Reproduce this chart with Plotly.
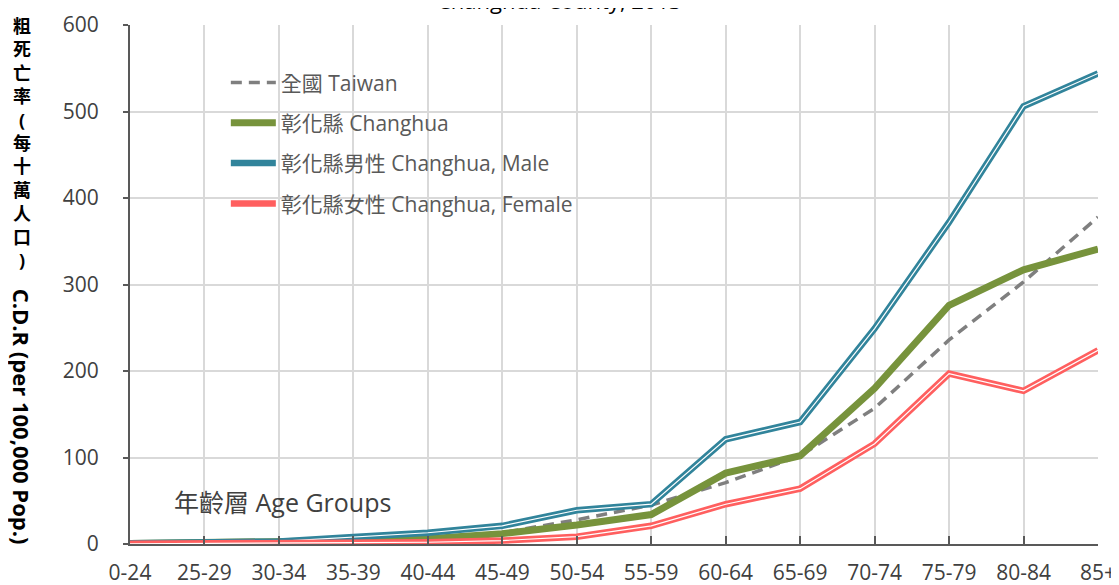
import plotly.graph_objects as go

age_groups = ["0-24", "25-29", "30-34", "35-39", "40-44", "45-49", "50-54",
              "55-59", "60-64", "65-69", "70-74", "75-79", "80-84", "85+"]
taiwan = [0.5, 1, 2, 4, 7, 13, 28, 45, 71, 102, 157, 236, 303, 378]
changhua = [0.5, 1, 2, 4, 6, 12, 22, 34, 82, 102, 180, 276, 317, 341]
changhua_male = [1, 1.5, 3, 8, 13, 21, 39, 46, 121, 141, 249, 372, 506, 544]
changhua_female = [0.3, 0.5, 1, 1.5, 2, 4, 8.5, 21, 46, 64, 116, 197, 177, 224]

names = ["全國 Taiwan", "彰化縣 Changhua", "彰化縣男性 Changhua, Male", "彰化縣女性 Changhua, Female"]
title_text = "Changhua County, 2013"
y_title_zh = "粗死亡率(每十萬人口)"
y_title_en = "C.D.R (per 100,000 Pop.)"
x_title = "年齡層 Age Groups"

FONT = "Open Sans, Noto Sans CJK TC"
x = list(range(len(age_groups)))

fig = go.Figure()
fig.add_trace(go.Scatter(x=x, y=taiwan, mode="lines", name=names[0], legendgroup="a",
                         line=dict(color="#7f7f7f", width=3.5, dash="11px,7px")))
fig.add_trace(go.Scatter(x=x, y=changhua, mode="lines", name=names[1], legendgroup="b",
                         line=dict(color="#77933c", width=7)))
fig.add_trace(go.Scatter(x=x, y=changhua_male, mode="lines", name=names[2], legendgroup="c",
                         line=dict(color="#31849b", width=6.5)))
fig.add_trace(go.Scatter(x=x, y=changhua_male, mode="lines", showlegend=False, legendgroup="c",
                         hoverinfo="skip", line=dict(color="white", width=1.2)))
fig.add_trace(go.Scatter(x=x, y=changhua_female, mode="lines", name=names[3], legendgroup="d",
                         line=dict(color="#ff5f5f", width=6.5)))
fig.add_trace(go.Scatter(x=x, y=changhua_female, mode="lines", showlegend=False, legendgroup="d",
                         hoverinfo="skip", line=dict(color="white", width=1.2)))

fig.update_layout(
    width=1111, height=577,
    margin=dict(l=122, r=21, t=17, b=41),
    paper_bgcolor="white", plot_bgcolor="white",
    font=dict(family=FONT, color="#595959"),
    showlegend=True,
    legend=dict(x=0.099, y=0.928, xanchor="left", yanchor="top",
                bgcolor="rgba(0,0,0,0)", font=dict(size=21, color="#595959", family=FONT),
                traceorder="grouped", tracegroupgap=10, itemwidth=45),
    xaxis=dict(tickmode="array", tickvals=x, ticktext=age_groups, range=[0, 13],
               automargin=False,
               showgrid=True, gridcolor="#d9d9d9", gridwidth=1.5,
               showline=True, linecolor="#595959", linewidth=2,
               ticks="inside", ticklen=8, tickcolor="#595959", tickwidth=2,
               ticklabelstandoff=9,
               tickfont=dict(size=21, color="#404040", family=FONT), zeroline=False),
    yaxis=dict(range=[0, 600], tickvals=[0, 100, 200, 300, 400, 500, 600],
               automargin=False,
               showgrid=True, gridcolor="#d9d9d9", gridwidth=1.5,
               showline=True, linecolor="#595959", linewidth=2,
               ticks="outside", ticklen=5, tickcolor="#595959", tickwidth=2,
               ticklabelstandoff=20,
               tickfont=dict(size=21, color="#404040", family=FONT), zeroline=False),
    annotations=[
        dict(text=title_text, xref="paper", yref="paper", x=0.444, y=1.049,
             showarrow=False, font=dict(size=22, color="#000000", family=FONT),
             xanchor="center", yanchor="middle"),
        dict(text="<b>" + "<br>".join(list(y_title_zh)) + "</b>", xref="paper", yref="paper",
             x=-0.112, y=0.772, showarrow=False, xanchor="center", yanchor="middle",
             font=dict(size=18, color="#000000", family=FONT)),
        dict(text="<b>" + y_title_en + "</b>", xref="paper", yref="paper", textangle=90,
             x=-0.112, y=0.246, showarrow=False, xanchor="center", yanchor="middle",
             font=dict(size=22, color="#000000", family=FONT)),
        dict(text=x_title, xref="paper", yref="paper", x=0.043, y=0.081,
             showarrow=False, xanchor="left", yanchor="middle",
             font=dict(size=25, color="#404040", family=FONT)),
    ],
)

fig.write_html("out.html")
